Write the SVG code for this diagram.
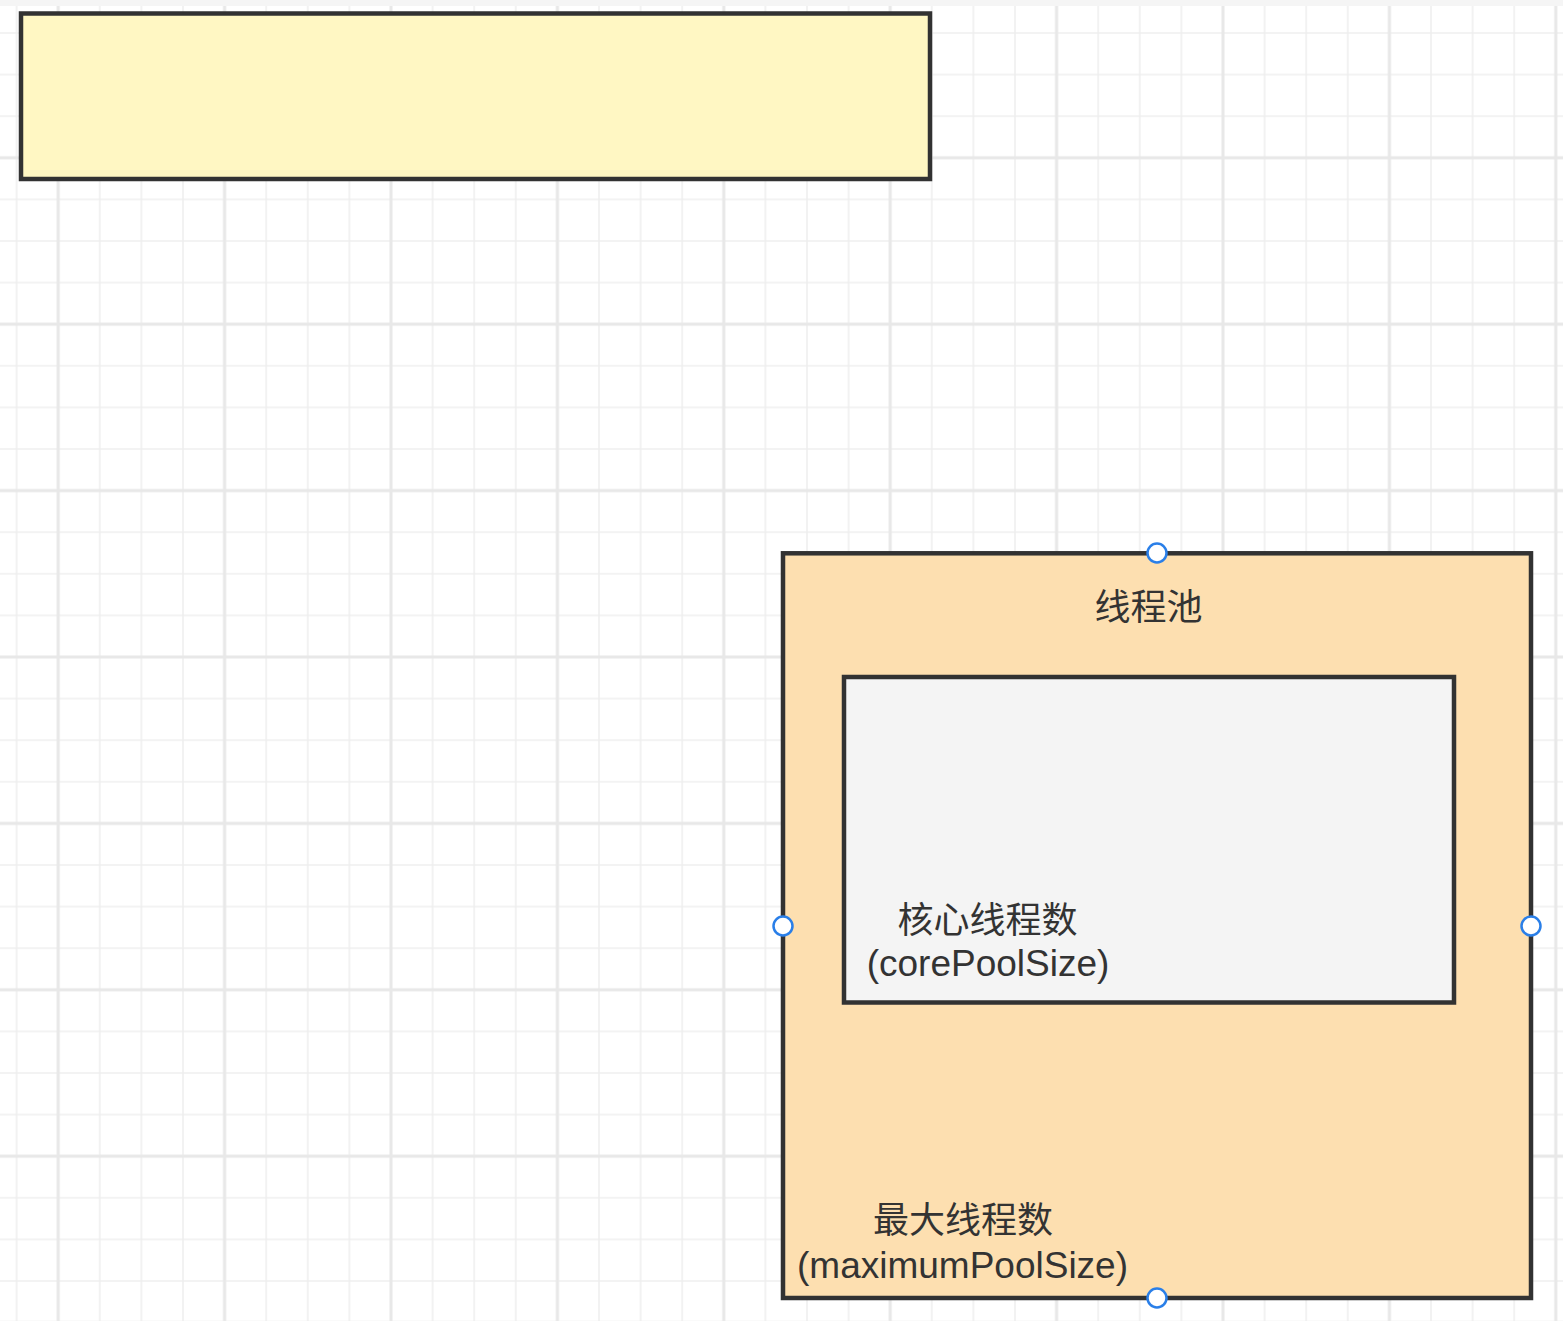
<svg xmlns="http://www.w3.org/2000/svg" width="1563" height="1321" viewBox="0 0 1563 1321">
  <style>
    .box { stroke: #323232; stroke-width: 4.5; }
    .lbl { font-family: "Liberation Sans", "Noto Sans CJK SC", sans-serif; font-size: 36px; fill: #333333; text-anchor: middle; }
    .lat { font-size: 37px; }
    .handle { fill: #ffffff; stroke: #2a7fe8; stroke-width: 2.5; }
  </style>
  <defs>
    <pattern id="minor" patternUnits="userSpaceOnUse" x="15.6" y="32" width="41.6" height="41.6">
      <path d="M1 0 V41.6 M0 1 H41.6" stroke="#efefef" stroke-width="1.6" fill="none"/>
    </pattern>
    <pattern id="major" patternUnits="userSpaceOnUse" x="56.2" y="155.8" width="166.4" height="166.4">
      <path d="M2 0 V166.4 M0 2 H166.4" stroke="#e8e8e8" stroke-width="3" fill="none"/>
    </pattern>
  </defs>
  <rect x="0" y="0" width="1563" height="1321" fill="#ffffff"/>
  <rect x="0" y="0" width="1563" height="6" fill="#f5f5f5"/>
  <g id="grid">
    <rect x="0" y="6" width="1563" height="1315" fill="url(#minor)"/>
    <rect x="0" y="6" width="1563" height="1315" fill="url(#major)"/>
  </g>
  <g id="node-top">
    <rect class="box" x="21" y="13.5" width="909" height="165.5" fill="#fff7c3"/>
  </g>
  <g id="node-pool">
    <rect class="box" x="783" y="553.3" width="748" height="744.7" fill="#fddfb0"/>
    <text class="lbl" x="1148.5" y="620">线程池</text>
    <text class="lbl" x="963" y="1233">最大线程数</text>
    <text class="lbl lat" x="962.5" y="1278">(maximumPoolSize)</text>
  </g>
  <g id="node-core">
    <rect class="box" x="844" y="677" width="610" height="325.5" fill="#f4f4f4"/>
    <text class="lbl" x="987.5" y="933">核心线程数</text>
    <text class="lbl lat" x="988" y="976">(corePoolSize)</text>
  </g>
  <g id="connectors"/>
  <g id="handles">
    <circle class="handle" cx="1157" cy="553" r="9.5"/>
    <circle class="handle" cx="783" cy="926" r="9.5"/>
    <circle class="handle" cx="1531" cy="926" r="9.5"/>
    <circle class="handle" cx="1157" cy="1298" r="9.5"/>
  </g>
</svg>
